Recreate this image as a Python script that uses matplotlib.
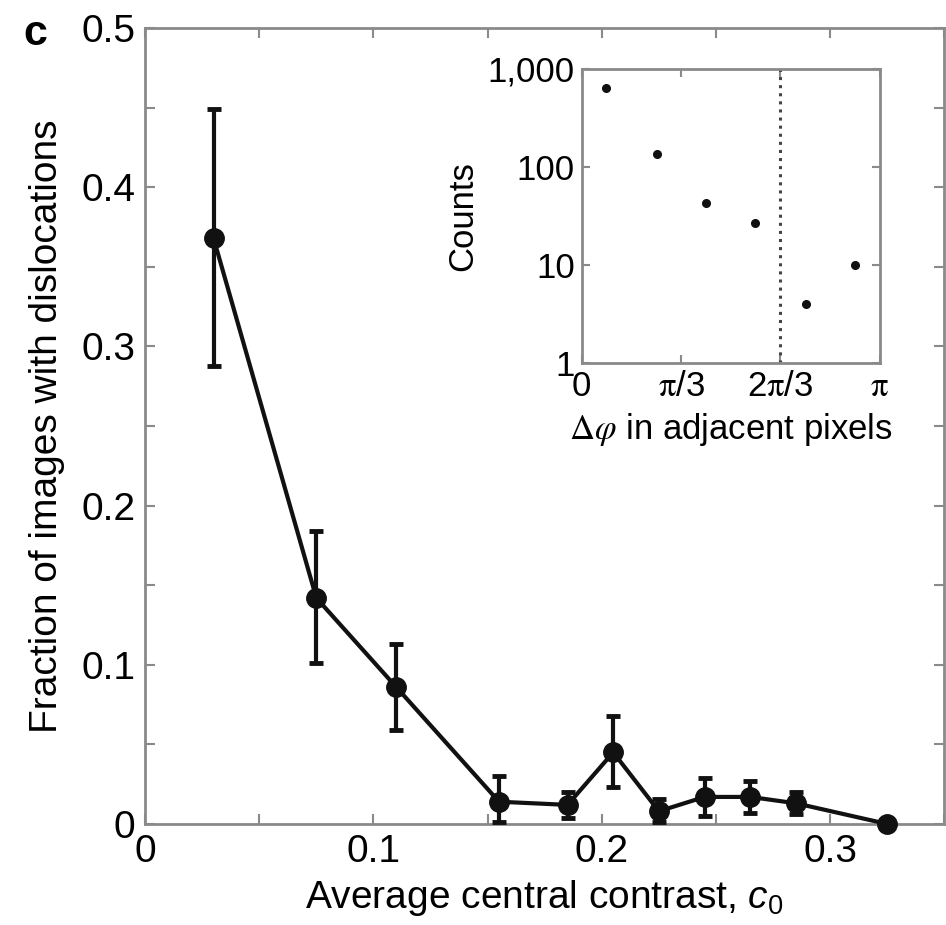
import matplotlib
matplotlib.use('Agg')
import matplotlib.pyplot as plt
from matplotlib.ticker import MultipleLocator, FixedLocator, NullLocator
import numpy as np

plt.rcParams['font.family'] = ['Liberation Sans', 'DejaVu Sans']
plt.rcParams['mathtext.fontset'] = 'custom'
plt.rcParams['mathtext.rm'] = 'Liberation Sans'
plt.rcParams['mathtext.it'] = 'Liberation Sans:italic'

# main panel: fraction of images with dislocations vs contrast
contrast = [0.03, 0.075, 0.11, 0.155, 0.185, 0.205, 0.225, 0.245, 0.265, 0.285, 0.325]
fraction = [0.368, 0.142, 0.086, 0.014, 0.012, 0.045, 0.008, 0.017, 0.017, 0.013, 0.0]
err_low = [0.288, 0.101, 0.059, 0.001, 0.004, 0.023, 0.001, 0.005, 0.007, 0.006, 0.0]
err_high = [0.449, 0.184, 0.113, 0.030, 0.020, 0.068, 0.016, 0.029, 0.027, 0.020, 0.0]
xticks_main = [0, 0.1, 0.2, 0.3]
yticks_main = [0, 0.1, 0.2, 0.3, 0.4, 0.5]

# inset: phase jump histogram
dphi = [0.26, 0.79, 1.31, 1.83, 2.36, 2.88]
counts = [630, 135, 43, 27, 4, 10]
inset_xticks = [0, np.pi / 3, 2 * np.pi / 3, np.pi]
inset_xticklabels = ['0', r'$\mathrm{\pi}$/3', r'2$\mathrm{\pi}$/3', r'$\mathrm{\pi}$']
inset_yticks = [1, 10, 100, 1000]
inset_yticklabels = ['1', '10', '100', '1,000']

spine_col = '#8a8a8a'

fig = plt.figure(figsize=(9.46, 9.25), dpi=100)
ax = fig.add_axes([0.1533, 0.1092, 0.845, 0.8605])

fr = np.array(fraction)
yerr = [fr - np.array(err_low), np.array(err_high) - fr]
ax.errorbar(contrast, fraction, yerr=yerr, color='#111111', lw=3, marker='o', ms=14,
            elinewidth=3, capsize=5, capthick=3.5, clip_on=False, zorder=5)

ax.set_xlim(0, 0.35)
ax.set_ylim(0, 0.5)
ax.xaxis.set_major_locator(FixedLocator(xticks_main))
ax.xaxis.set_minor_locator(MultipleLocator(0.05))
ax.yaxis.set_major_locator(FixedLocator(yticks_main))
ax.yaxis.set_minor_locator(MultipleLocator(0.05))
ax.set_xticklabels(['0', '0.1', '0.2', '0.3'])
ax.set_yticklabels(['0', '0.1', '0.2', '0.3', '0.4', '0.5'])
ax.tick_params(which='both', direction='in', top=True, right=True, length=7,
               width=1.5, color=spine_col, labelsize=28, pad=7)
for s in ax.spines.values():
    s.set_color(spine_col)
    s.set_linewidth(2)

ax.set_xlabel('Average central contrast, $c_0$', fontsize=28, labelpad=6)
ax.set_ylabel('Fraction of images with dislocations', fontsize=28, labelpad=12)

fig.text(0.037, 0.963, 'c', fontsize=31, fontweight='bold', ha='center', va='center')

# inset
axin = fig.add_axes([0.615, 0.6076, 0.315, 0.318])
axin.plot(dphi, counts, 'o', color='#111111', ms=5.5)
axin.axvline(2 * np.pi / 3, color='#444444', ls=':', lw=2.2)
axin.set_yscale('log')
axin.set_xlim(0, np.pi)
axin.set_ylim(1, 1000)
axin.set_xticks(inset_xticks)
axin.set_xticklabels(inset_xticklabels)
axin.set_yticks(inset_yticks)
axin.set_yticklabels(inset_yticklabels)
axin.yaxis.set_minor_locator(NullLocator())
axin.tick_params(direction='in', top=True, right=True, length=6, width=1.5,
                 color=spine_col, labelsize=25, pad=5)
for lab in axin.get_xticklabels():
    lab.set_math_fontfamily('stix')
for s in axin.spines.values():
    s.set_color(spine_col)
    s.set_linewidth(2)
axin.set_ylabel('Counts', fontsize=25, labelpad=6)
axin.set_xlabel(r'$\Delta\varphi$ in adjacent pixels', fontsize=25, labelpad=6,
                math_fontfamily='stix')

fig.savefig('out.png', dpi=100)
